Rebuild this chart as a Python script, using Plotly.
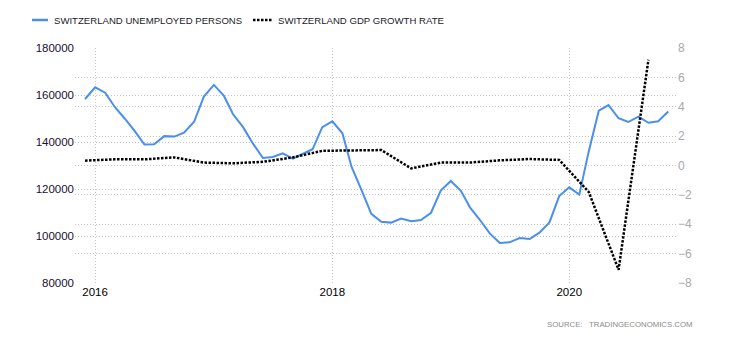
import plotly.graph_objects as go
import pandas as pd

# ---- data ----
months = pd.date_range("2015-12-01", "2020-11-01", freq="MS").strftime("%Y-%m-%d").tolist()
unemployed = [
    158300, 163300, 161000, 155000, 150000, 144800, 138900, 139000, 142500, 142300, 144000, 148600,
    159300, 164300, 159600, 151800, 146300, 139400, 133200, 133600, 135200, 132900, 134900, 136900,
    146300, 148800, 143700, 129500, 119500, 109400, 106100, 105700, 107400, 106300, 106800, 109900,
    119300, 123400, 119200, 112200, 106800, 101100, 97000, 97300, 99100, 98700, 101400, 105800,
    117000, 120700, 117600, 136000, 153300, 155700, 150100, 148500, 150800, 148200, 148800, 153000,
]
quarters = pd.date_range("2015-12-01", "2020-09-01", freq="3MS").strftime("%Y-%m-%d").tolist()
gdp_growth = [0.33, 0.42, 0.42, 0.55, 0.2, 0.15, 0.25, 0.55, 1.0, 1.05, 1.05, -0.2,
              0.2, 0.2, 0.35, 0.44, 0.38, -1.8, -7.1, 7.2]
left_ticks = [80000, 100000, 120000, 140000, 160000, 180000]
right_ticks = [-8, -6, -4, -2, 0, 2, 4, 6, 8]
x_ticks = ["2016-01-01", "2018-01-01", "2020-01-01"]
x_labels = ["2016", "2018", "2020"]
name1 = "SWITZERLAND UNEMPLOYED PERSONS"
name2 = "SWITZERLAND GDP GROWTH RATE"

BLUE = "#4a8fec"
FONT = "Liberation Sans, Arial, sans-serif"
W, H = 730, 340
L, R, T, B = 75, 53, 48, 57
PW, PH = W - L - R, H - T - B


def px(x):
    return (x - L) / PW


def py(y):
    return (H - B - y) / PH


fig = go.Figure()
fig.add_trace(go.Scatter(x=months, y=unemployed, mode="lines", name=name1,
                         line=dict(color=BLUE, width=2), yaxis="y", showlegend=False))
fig.add_trace(go.Scatter(x=quarters, y=gdp_growth, mode="lines", name=name2,
                         line=dict(color="#000000", width=2.5, dash="2.5px,1.5px"),
                         yaxis="y2", showlegend=False))

grid = dict(showgrid=True, gridcolor="#c4c4c4", griddash="1px,2px", gridwidth=1, zeroline=False,
            showline=False)

fig.update_layout(
    width=W, height=H,
    margin=dict(l=L, r=R, t=T, b=B, pad=0),
    paper_bgcolor="white", plot_bgcolor="white",
    font=dict(family=FONT, size=11, color="#111"),
    xaxis=dict(type="date", range=["2015-10-31", "2020-11-28"], tickvals=x_ticks,
               ticktext=x_labels, tickfont=dict(size=11.5, color="#000"), ticks="", **grid),
    yaxis=dict(range=[80000, 180000], tickvals=left_ticks, tickformat="d",
               tickfont=dict(size=11.5, color="#1a1030"), ticks="", **grid),
    yaxis2=dict(range=[-8, 8], tickvals=right_ticks, overlaying="y", side="right",
                tickfont=dict(size=12, color="#a8a8a8"), ticks="", **grid),
    showlegend=False,
)

# legend drawn as shapes + text
fig.add_shape(type="line", xref="paper", yref="paper", x0=px(32), x1=px(48), y0=py(20), y1=py(20),
              line=dict(color=BLUE, width=2.5))
fig.add_shape(type="line", xref="paper", yref="paper", x0=px(253), x1=px(273), y0=py(20), y1=py(20),
              line=dict(color="#000", width=2.5, dash="2.5px,1.5px"))
fig.add_annotation(text=name1, xref="paper", yref="paper", x=px(52), y=py(20), xanchor="left",
                   yanchor="middle", showarrow=False, font=dict(size=9.6, color="#1a1a2a"))
fig.add_annotation(text=name2, xref="paper", yref="paper", x=px(276), y=py(20), xanchor="left",
                   yanchor="middle", showarrow=False, font=dict(size=9.6, color="#1a1a2a"))
fig.add_annotation(text="SOURCE:\u00a0\u00a0\u00a0TRADINGECONOMICS.COM", xref="paper", yref="paper",
                   x=px(545), y=py(324), xanchor="left", yanchor="middle", showarrow=False,
                   font=dict(size=7.8, color="#8a8a8a"))

fig.write_html("out.html")
